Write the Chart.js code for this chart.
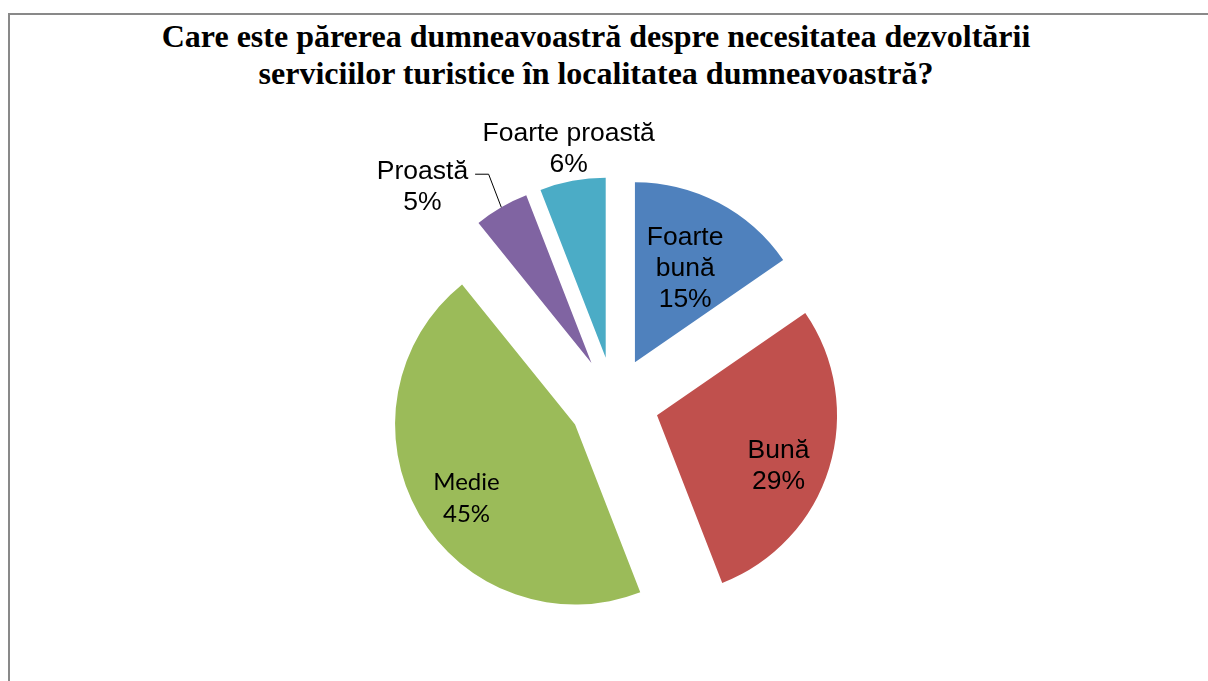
<!DOCTYPE html>
<html>
<head>
<meta charset="utf-8">
<title>Pie chart</title>
<script src="https://cdn.jsdelivr.net/npm/chart.js@4.4.0/dist/chart.umd.min.js"></script>
<style>
html,body{margin:0;padding:0;background:#fff;width:1208px;height:681px;overflow:hidden;}
#frame{position:absolute;left:8px;top:13px;width:1300px;height:800px;border:2px solid #898989;}
#title{position:absolute;left:0;top:18px;width:1192px;text-align:center;color:#000;
  font:bold 32px "Liberation Serif","Times New Roman",serif;line-height:37px;}
#pie{position:absolute;left:0;top:0;}
</style>
</head>
<body>
<div id="frame"></div>
<div id="title">Care este părerea dumneavoastră despre necesitatea dezvoltării<br>serviciilor turistice în localitatea dumneavoastră?</div>
<canvas id="pie" width="1208" height="681"></canvas>
<script>
// data (percent of answers)
const categories = ['Foarte bună', 'Bună', 'Medie', 'Proastă', 'Foarte proastă'];
const values = [15.4, 28.7, 45.1, 4.9, 5.9];
const colors = ['#4F81BD', '#C0504D', '#9BBB59', '#8064A2', '#4BACC6'];
const wrapName = [true, false, false, false, false];

// label placement: [fraction of radius from slice centre, angle nudge in degrees]
const labelPlace = [[0.60, 0], [0.727, 4.8], [0.727, -3.9], [1.365, -13.4], [1.188, 0.65]];
const EXPLODE = 45;

const el = id => document.getElementById(id);
const total = values.reduce((a, b) => a + b, 0);
const pct = v => Math.round(v / total * 100) + '%';

// pull every slice out along its bisector (plain translation, no resize)
const explode = {
  id: 'explode',
  afterDatasetUpdate(chart, args) {
    args.meta.data.forEach(arc => {
      const mid = (arc.startAngle + arc.endAngle) / 2;
      arc.x += Math.cos(mid) * EXPLODE;
      arc.y += Math.sin(mid) * EXPLODE;
    });
  }
};

// data labels + leader line for the small slice
const sliceLabels = {
  id: 'sliceLabels',
  afterDatasetsDraw(chart) {
    const ctx = chart.ctx;
    const meta = chart.getDatasetMeta(0);
    meta.data.forEach((arc, i) => {
      const [f, nudge] = labelPlace[i];
      const mid = (arc.startAngle + arc.endAngle) / 2;
      const a = mid + nudge * Math.PI / 180;
      const r = arc.outerRadius;
      const x = arc.x + Math.cos(a) * r * f;
      const y = arc.y + Math.sin(a) * r * f;
      const lines = wrapName[i] ? categories[i].split(' ') : [categories[i]];
      lines.push(pct(values[i]));
      const calibri = i === 2;
      ctx.save();
      ctx.font = calibri ? '24px Lato' : '26.5px "Liberation Sans", Arial, sans-serif';
      const capH = calibri ? 16.5 : 18.8;
      const lh = calibri ? 32.5 : 31;
      ctx.fillStyle = '#000';
      ctx.textAlign = 'center';
      ctx.textBaseline = 'alphabetic';
      lines.forEach((t, k) => {
        ctx.fillText(t, x, y + (k - (lines.length - 1) / 2) * lh + capH / 2);
      });
      if (i === 3) {
        const w = Math.max(...lines.map(t => ctx.measureText(t).width));
        const sx = x + w / 2 + 7, ly = y - 10.5;
        ctx.strokeStyle = '#000';
        ctx.lineWidth = 1;
        ctx.beginPath();
        ctx.moveTo(sx, ly);
        ctx.lineTo(sx + 13.5, ly);
        ctx.lineTo(arc.x + Math.cos(mid) * r, arc.y + Math.sin(mid) * r);
        ctx.stroke();
      }
      ctx.restore();
    });
  }
};

new Chart(el('pie').getContext('2d'), {
  type: 'pie',
  data: {
    labels: categories,
    datasets: [{ data: values, backgroundColor: colors, borderWidth: 0 }]
  },
  options: {
    responsive: false,
    animation: false,
    events: [],
    radius: 180,
    layout: { padding: { left: 100, right: 80, top: 140, bottom: 17 } },
    plugins: { legend: { display: false }, tooltip: { enabled: false }, title: { display: false } }
  },
  plugins: [explode, sliceLabels]
});
</script>
</body>
</html>
